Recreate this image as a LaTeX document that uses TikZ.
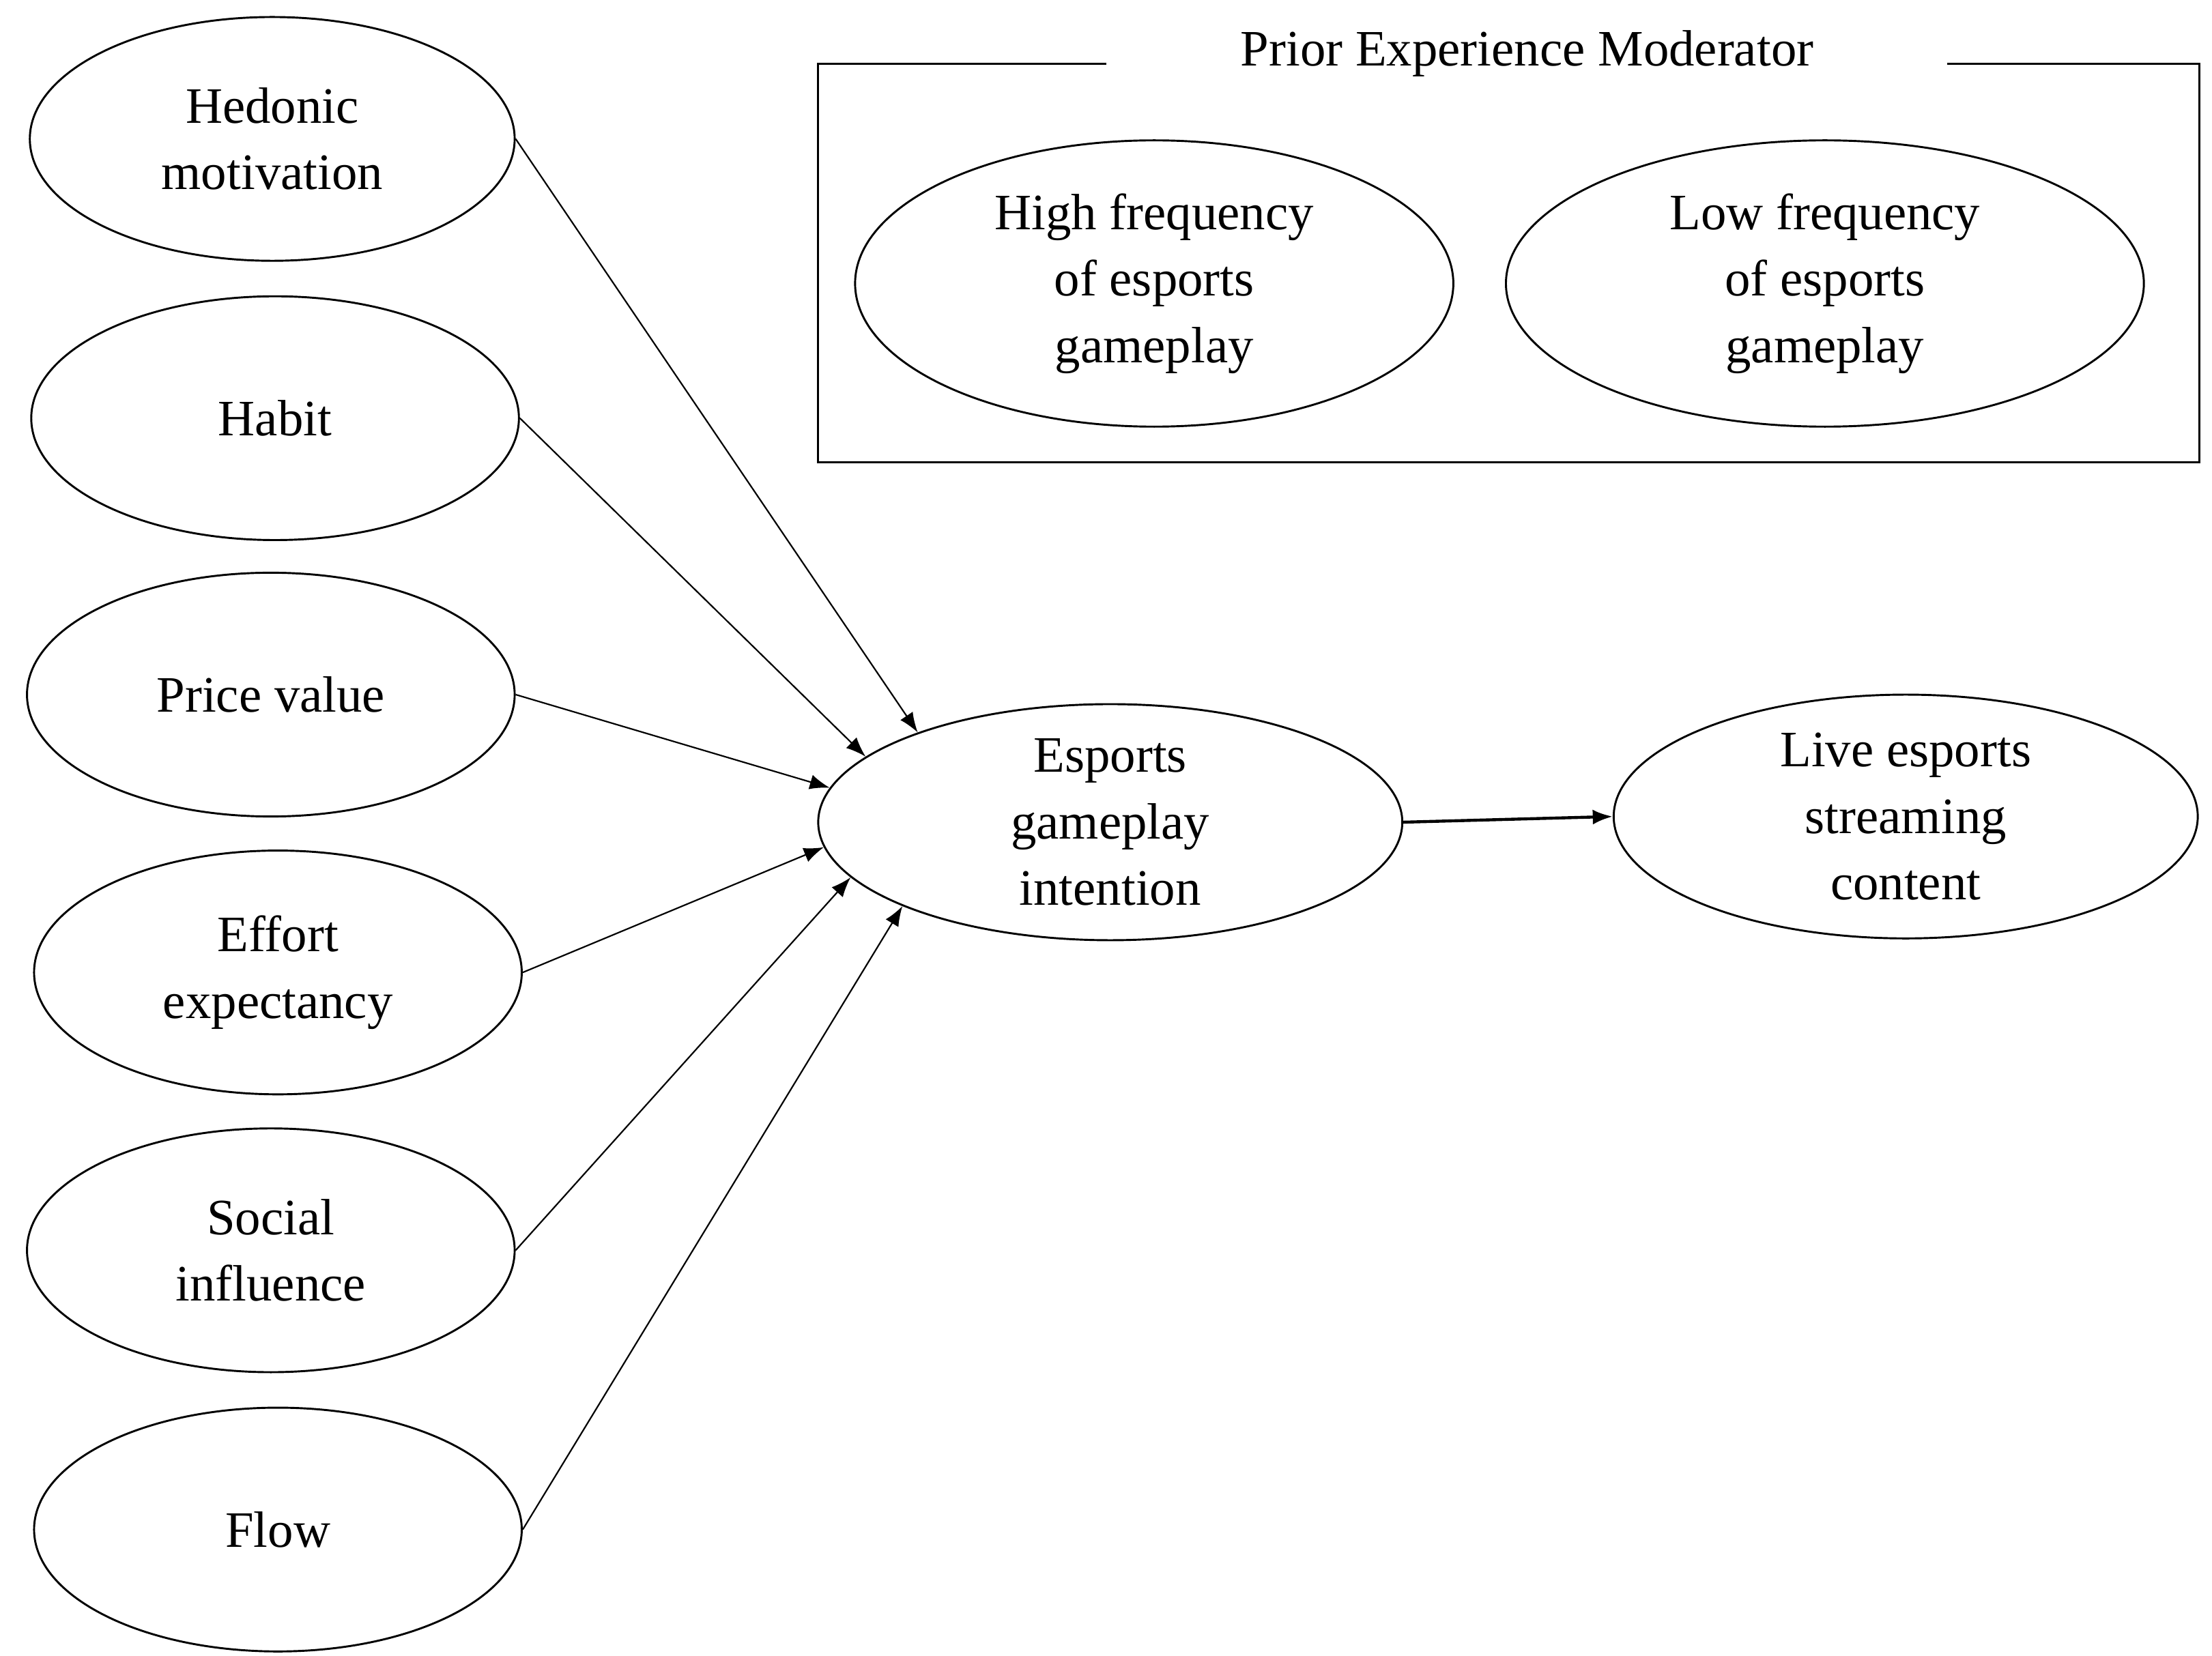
\documentclass[tikz,border=0pt]{standalone}
\usepackage{fontspec}
\setmainfont{Liberation Serif}
\usetikzlibrary{shapes.geometric,arrows.meta}
\begin{document}
\begin{tikzpicture}[x=0.02cm,y=-0.02cm,
  el/.style={draw,ellipse,inner sep=0pt,line width=0.8pt,align=center,font=\fontsize{20.5}{26.7}\selectfont},
  arr/.style={-{Latex[length=8pt,width=6pt]},line width=0.6pt}]
\useasboundingbox (0,0) rectangle (1560,1168);
\node[el,minimum width=342\pgflinewidth*0+6.84cm,minimum height=3.44cm] (hed) at (192,98) {Hedonic\\motivation};
\node[el,minimum width=6.88cm,minimum height=3.44cm] (hab) at (194,295) {Habit};
\node[el,minimum width=6.88cm,minimum height=3.44cm] (pri) at (191,490) {Price value};
\node[el,minimum width=6.88cm,minimum height=3.44cm] (eff) at (196,686) {Effort\\expectancy};
\node[el,minimum width=6.88cm,minimum height=3.44cm] (soc) at (191,882) {Social\\influence};
\node[el,minimum width=6.88cm,minimum height=3.44cm] (flo) at (196,1079) {Flow};
\node[el,minimum width=8.24cm,minimum height=3.24cm] (esp) at (783,580) {Esports\\gameplay\\intention};
\node[el,minimum width=8.24cm,minimum height=3.44cm] (liv) at (1344,576) {Live esports\\streaming\\content};
\node[el,minimum width=8.44cm,minimum height=4.04cm] (hig) at (814,200) {High frequency\\of esports\\gameplay};
\node[el,minimum width=9.0cm,minimum height=4.04cm] (low) at (1287,200) {Low frequency\\of esports\\gameplay};
\node[font=\fontsize{20.5}{26.7}\selectfont] (ttl) at (1077,38) {Prior Experience Moderator};
\coordinate (bl) at (577,326);
\coordinate (br) at (1551,326);
\draw[line width=0.8pt] (780,45) -- (577,45) -- (bl) -- (br) -- (1551,45) -- (1373,45);
\draw[arr] (hed.east) -- (esp.155.5);
\draw[arr] (hab.east) -- (esp.165);
\draw[arr] (pri.east) -- (esp.173.7);
\draw[arr] (eff.east) -- (esp.185.8);
\draw[arr] (soc.east) -- (esp.192.2);
\draw[arr] (flo.east) -- (esp.202.7);
\draw[arr,line width=1.2pt] (esp.east) -- (liv.west);
\end{tikzpicture}
\end{document}
